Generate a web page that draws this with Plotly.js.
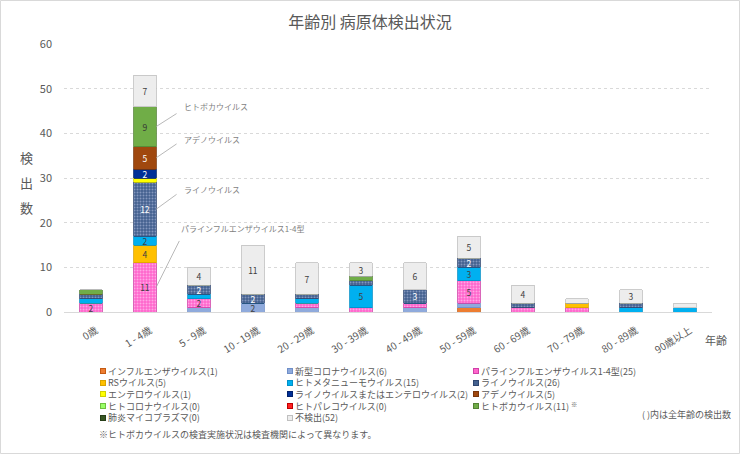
<!DOCTYPE html>
<html>
<head>
<meta charset="utf-8">
<script src="https://cdn.plot.ly/plotly-3.0.1.min.js"></script>
<style>
html,body{margin:0;padding:0;background:#fff;}
#chart{width:740px;height:454px;}
</style>
</head>
<body>
<div id="chart"></div>
<script>
// ---- data ----
const categories = ['0歳','1 - 4歳','5 - 9歳','10 - 19歳','20 - 29歳','30 - 39歳','40 - 49歳','50 - 59歳','60 - 69歳','70 - 79歳','80 - 89歳','90歳以上'];

const influenza   = [0,0,0,0,0,0,0,1,0,0,0,0];
const covid       = [0,0,1,2,1,0,1,1,0,0,0,0];
const parainfl    = [2,11,2,0,1,1,1,5,1,1,0,0];
const rsv         = [0,4,0,0,0,0,0,0,0,1,0,0];
const hmpv        = [1,2,1,0,1,5,0,3,0,0,1,1];
const rhino       = [1,12,2,2,1,1,3,2,1,0,1,0];
const entero      = [0,1,0,0,0,0,0,0,0,0,0,0];
const rhinoEntero = [0,2,0,0,0,0,0,0,0,0,0,0];
const adeno       = [0,5,0,0,0,0,0,0,0,0,0,0];
const hcov        = [0,0,0,0,0,0,0,0,0,0,0,0];
const parecho     = [0,0,0,0,0,0,0,0,0,0,0,0];
const boca        = [1,9,0,0,0,1,0,0,0,0,0,0];
const mycoplasma  = [0,0,0,0,0,0,0,0,0,0,0,0];
const undetected  = [0,7,4,11,7,3,6,5,4,1,3,1];

const seriesNames = ['インフルエンザウイルス','新型コロナウイルス','パラインフルエンザウイルス1-4型','RSウイルス','ヒトメタニューモウイルス','ライノウイルス','エンテロウイルス','ライノウイルスまたはエンテロウイルス','アデノウイルス','ヒトコロナウイルス','ヒトパレコウイルス','ヒトボカウイルス','肺炎マイコプラズマ','不検出'];
const seriesValues = [influenza,covid,parainfl,rsv,hmpv,rhino,entero,rhinoEntero,adeno,hcov,parecho,boca,mycoplasma,undetected];

// ---- styles ----
const fills   = ['#ED7D31','#8FAADC','#FF66CC','#FFC000','#00B0F0','#44618F','#FFFF00','#002F96','#A0480E','#99FF66','#FF2020','#70AD47','#375623','#EDEDED'];
const borders = ['#C55A11','#6F8FC8','#D040A8','#D9A300','#0090C8','#2F4670','#D0D000','#00206C','#7A360A','#70C040','#C00000','#548235','#263D18','#BFBFBF'];
const textCols= ['#404040','#404040','#404040','#404040','#404040','#FFFFFF','#404040','#FFFFFF','#FFFFFF','#404040','#404040','#333333','#FFFFFF','#404040'];
const patterns = {
  2: {shape:'.', bgcolor:'#FF66CC', fgcolor:'#FFA8E6', size:3, solidity:0.35},
  5: {shape:'.', bgcolor:'#44618F', fgcolor:'#8497BE', size:3, solidity:0.35},
  10:{shape:'.', bgcolor:'#FF2020', fgcolor:'#FF9090', size:3, solidity:0.35}
};

const FONT = '"Noto Sans CJK JP", "Noto Sans", sans-serif';
const GRAY = '#595959';

const traces = seriesNames.map((name, i) => {
  const marker = {color: fills[i], line:{color: borders[i], width:0.8}};
  if (patterns[i]) marker.pattern = patterns[i];
  return {
    type:'bar',
    name: name,
    x: categories,
    y: seriesValues[i],
    marker: marker,
    text: seriesValues[i].map(v => v >= 2 ? String(v) : ''),
    textposition:'inside',
    insidetextanchor:'middle',
    textangle:0,
    textfont:{family:FONT, size:8.5, color:textCols[i]},
    hoverinfo:'name+y',
    showlegend:false
  };
});

// ---- layout geometry ----
const W = 740, H = 454;
const M = {l:64, r:28, t:44, b:142};
const PW = W - M.l - M.r, PH = H - M.t - M.b;
const px2x = px => (px - M.l) / PW;
const px2y = py => 1 - (py - M.t) / PH;

const annotations = [];

// y-axis title characters (stacked)
'検出数'.split('').forEach((ch, k) => {
  annotations.push({xref:'paper', yref:'paper', x:px2x(26), y:px2y(157 + k*25), text:ch, showarrow:false,
    xanchor:'center', yanchor:'middle', font:{family:FONT, size:13, color:GRAY}});
});

// x-axis title
annotations.push({xref:'paper', yref:'paper', x:px2x(716), y:px2y(340), text:'年齢', showarrow:false,
  xanchor:'center', yanchor:'middle', font:{family:FONT, size:11, color:GRAY}});

// callouts for the 1 - 4歳 bar
const focus = 1;
const cum = [];
let acc = 0;
seriesValues.forEach((arr, i) => { cum[i] = [acc, acc + arr[focus]]; acc += arr[focus]; });
const callouts = [
  {idx:11, label:'ヒトボカウイルス', ax:22, ay:-14, xs:26, ys:20},
  {idx:8,  label:'アデノウイルス', ax:22, ay:-15, xs:26, ys:18},
  {idx:5,  label:'ライノウイルス', ax:22, ay:-16, xs:26, ys:20},
  {idx:2,  label:'パラインフルエンザウイルス1-4型', ax:24, ay:-48, xs:23, ys:59}
];
const barEdge = focus + 0.205;
callouts.forEach(c => {
  const ymid = (cum[c.idx][0] + cum[c.idx][1]) / 2;
  annotations.push({xref:'x', yref:'y', x:barEdge, y:ymid, text:'', showarrow:true, arrowhead:0,
    arrowwidth:0.8, arrowcolor:'#A6A6A6', ax:c.ax, ay:c.ay, standoff:0, startstandoff:0});
  annotations.push({xref:'x', yref:'y', x:barEdge, y:ymid, text:c.label, showarrow:false,
    xanchor:'left', yanchor:'middle', xshift:c.xs, yshift:c.ys, font:{family:FONT, size:8, color:'#7F7F7F'}});
});

// legend (3 columns, row-major like the original)
const colSym = [100, 287, 473];
seriesNames.forEach((name, i) => {
  const col = i % 3, row = Math.floor(i / 3);
  const total = seriesValues[i].reduce((a, b) => a + b, 0);
  const yy = 371 + row * 11.7;
  annotations.push({xref:'paper', yref:'paper', x:px2x(colSym[col] + 2.5), y:px2y(yy), text:' ',
    showarrow:false, xanchor:'center', yanchor:'middle', width:4, height:4, borderpad:0,
    bgcolor:fills[i], bordercolor:borders[i], borderwidth:1, font:{size:4}});
  let label = name + '(' + total + ')';
  if (i === 11) label += ' <sup>※</sup>';
  annotations.push({xref:'paper', yref:'paper', x:px2x(colSym[col] + 7), y:px2y(yy), text:label,
    showarrow:false, xanchor:'left', yanchor:'middle', height:11, borderpad:0, font:{family:FONT, size:9, color:GRAY}});
});

annotations.push({xref:'paper', yref:'paper', x:px2x(732), y:px2y(414), text:'( )内は全年齢の検出数',
  showarrow:false, xanchor:'right', yanchor:'middle', height:11, borderpad:0, font:{family:FONT, size:9, color:GRAY}});
annotations.push({xref:'paper', yref:'paper', x:px2x(98), y:px2y(434), text:'※ヒトボカウイルスの検査実施状況は検査機関によって異なります。',
  showarrow:false, xanchor:'left', yanchor:'middle', height:11, borderpad:0, font:{family:FONT, size:9, color:GRAY}});

const layout = {
  width:W, height:H,
  margin:{l:M.l, r:M.r, t:M.t, b:M.b, pad:0},
  paper_bgcolor:'#FFFFFF', plot_bgcolor:'#FFFFFF',
  barmode:'stack', bargap:0.59,
  showlegend:false,
  font:{family:FONT, color:GRAY},
  title:{text:'年齢別 病原体検出状況', font:{family:FONT, size:16, color:GRAY}, x:0.5, xanchor:'center', y:1 - 22/H, yanchor:'middle'},
  uniformtext:{minsize:8.5, mode:'show'},
  xaxis:{type:'category', tickangle:-32, tickfont:{family:FONT, size:10, color:GRAY},
    ticklabelstandoff:8, ticklabelshift:5,
    showgrid:false, showline:true, linecolor:'#D9D9D9', linewidth:1, ticks:'', fixedrange:true},
  yaxis:{range:[0,60], dtick:10, tickfont:{family:FONT, size:11, color:GRAY},
    showgrid:true, gridcolor:'#D9D9D9', griddash:'dot', gridwidth:1, zeroline:false,
    showline:false, ticks:'', ticklabelstandoff:11, fixedrange:true},
  annotations:annotations,
  shapes:[{type:'rect', xref:'paper', yref:'paper',
    x0:px2x(0.5), x1:px2x(W-0.5), y0:px2y(H-0.5), y1:px2y(0.5),
    line:{color:'#D9D9D9', width:1}, fillcolor:'rgba(0,0,0,0)', layer:'below'}]
};

Plotly.newPlot('chart', traces, layout, {displayModeBar:false, staticPlot:true});
</script>
</body>
</html>
